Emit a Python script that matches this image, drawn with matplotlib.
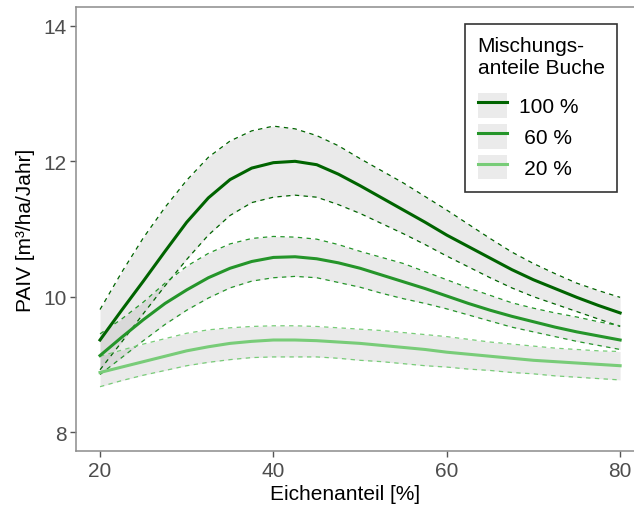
import numpy as np
import matplotlib
matplotlib.use("Agg")
import matplotlib.pyplot as plt
from matplotlib.lines import Line2D
import matplotlib.patches as mpatches

plt.rcParams['font.family'] = ['Liberation Sans', 'DejaVu Sans']

# Eichenanteil [%]
x = [20, 22.5, 25, 27.5, 30, 32.5, 35, 37.5, 40, 42.5, 45, 47.5, 50,
     52.5, 55, 57.5, 60, 62.5, 65, 67.5, 70, 72.5, 75, 77.5, 80]

# 100 % Buche
fit_100 = [9.36, 9.80, 10.23, 10.67, 11.10, 11.46, 11.73, 11.90, 11.98, 12.00, 11.95, 11.81, 11.64,
           11.46, 11.28, 11.10, 10.91, 10.74, 10.57, 10.40, 10.25, 10.12, 9.99, 9.87, 9.76]
upr_100 = [9.81, 10.36, 10.87, 11.32, 11.72, 12.06, 12.30, 12.45, 12.52, 12.48, 12.38, 12.23, 12.04,
           11.86, 11.68, 11.48, 11.28, 11.07, 10.86, 10.66, 10.49, 10.34, 10.20, 10.09, 9.99]
lwr_100 = [8.92, 9.33, 9.75, 10.16, 10.55, 10.91, 11.20, 11.39, 11.47, 11.50, 11.47, 11.36, 11.23,
           11.08, 10.93, 10.77, 10.60, 10.44, 10.28, 10.13, 10.00, 9.89, 9.78, 9.67, 9.56]

# 60 % Buche
fit_60 = [9.13, 9.40, 9.66, 9.90, 10.10, 10.28, 10.42, 10.52, 10.58, 10.59, 10.56, 10.50, 10.42,
          10.32, 10.22, 10.12, 10.01, 9.90, 9.80, 9.71, 9.63, 9.55, 9.48, 9.42, 9.36]
upr_60 = [9.45, 9.67, 9.92, 10.20, 10.45, 10.64, 10.78, 10.86, 10.89, 10.88, 10.85, 10.77, 10.67,
          10.58, 10.49, 10.37, 10.25, 10.13, 10.02, 9.91, 9.83, 9.76, 9.70, 9.63, 9.57]
lwr_60 = [8.85, 9.10, 9.35, 9.59, 9.80, 9.98, 10.13, 10.23, 10.28, 10.30, 10.28, 10.21, 10.14,
          10.05, 9.97, 9.90, 9.82, 9.73, 9.64, 9.55, 9.48, 9.41, 9.34, 9.28, 9.22]

# 20 % Buche
fit_20 = [8.88, 8.96, 9.04, 9.12, 9.20, 9.26, 9.31, 9.34, 9.36, 9.36, 9.35, 9.33, 9.31,
          9.28, 9.25, 9.22, 9.18, 9.15, 9.12, 9.09, 9.06, 9.04, 9.02, 9.00, 8.98]
upr_20 = [9.12, 9.21, 9.30, 9.38, 9.46, 9.51, 9.54, 9.56, 9.57, 9.57, 9.56, 9.54, 9.52,
          9.50, 9.47, 9.44, 9.41, 9.37, 9.33, 9.30, 9.27, 9.24, 9.22, 9.20, 9.19]
lwr_20 = [8.67, 8.76, 8.84, 8.91, 8.98, 9.03, 9.07, 9.10, 9.11, 9.11, 9.11, 9.09, 9.06,
          9.04, 9.01, 8.98, 8.96, 8.93, 8.91, 8.88, 8.86, 8.83, 8.81, 8.79, 8.77]

labels = ['100 %', '60 %', '20 %']
colors = ['#006400', '#25952A', '#78CC78']
fits = [fit_100, fit_60, fit_20]
uprs = [upr_100, upr_60, upr_20]
lwrs = [lwr_100, lwr_60, lwr_20]

x_ticks = [20, 40, 60, 80]
y_ticks = [8, 10, 12, 14]

fig = plt.figure(figsize=(6.34, 5.10), dpi=100)
ax = fig.add_axes([76/634, 58/510, 1 - 76/634, 444/510])

for fit, upr, lwr, col in zip(fits, uprs, lwrs, colors):
    ax.fill_between(x, lwr, upr, color='#999999', alpha=0.2, linewidth=0)
    ax.plot(x, upr, '--', color=col, linewidth=0.9, dashes=(3.5, 3.5))
    ax.plot(x, lwr, '--', color=col, linewidth=0.9, dashes=(3.5, 3.5))
for fit, col in zip(fits, colors):
    ax.plot(x, fit, '-', color=col, linewidth=2.2)

ax.set_xlim(17.23, 81.6)
ax.set_ylim(7.72, 14.28)
ax.set_xticks(x_ticks)
ax.set_yticks(y_ticks)
ax.tick_params(labelcolor='#4D4D4D', labelsize=15, length=4, width=1, color='#555555', pad=3)
for s in ['left', 'bottom', 'top']:
    ax.spines[s].set_color('#8C8C8C')
    ax.spines[s].set_linewidth(1.1)
ax.spines['right'].set_visible(False)

ax.set_xlabel('Eichenanteil [%]', fontsize=15, color='black')
ax.xaxis.set_label_coords((345 - 76) / 558, -0.075)
ax.set_ylabel('PAIV [m³/ha/Jahr]', fontsize=15, color='black', labelpad=6)

handles = []
for col in colors:
    box = mpatches.Patch(facecolor='#EBEBEB', edgecolor='none')
    ln = Line2D([0], [0], color=col, linewidth=2.2)
    handles.append((box, ln))
shown = ['\u2005' * (5 - len(l)) + l for l in labels]
leg = ax.legend(handles, shown, title='Mischungs-\nanteile Buche',
                loc='upper right', bbox_to_anchor=(617/634, 1 - 25/510),
                bbox_transform=fig.transFigure, fontsize=15, title_fontsize=15,
                frameon=True, fancybox=False, edgecolor='black',
                handlelength=1.4, handleheight=1.45, labelspacing=0.3,
                borderpad=0.6, handletextpad=0.6, borderaxespad=0)
leg.get_frame().set_linewidth(1.2)
leg._legend_box.align = 'left'
leg._legend_box.sep = 11

fig.savefig('out.png', dpi=100)
